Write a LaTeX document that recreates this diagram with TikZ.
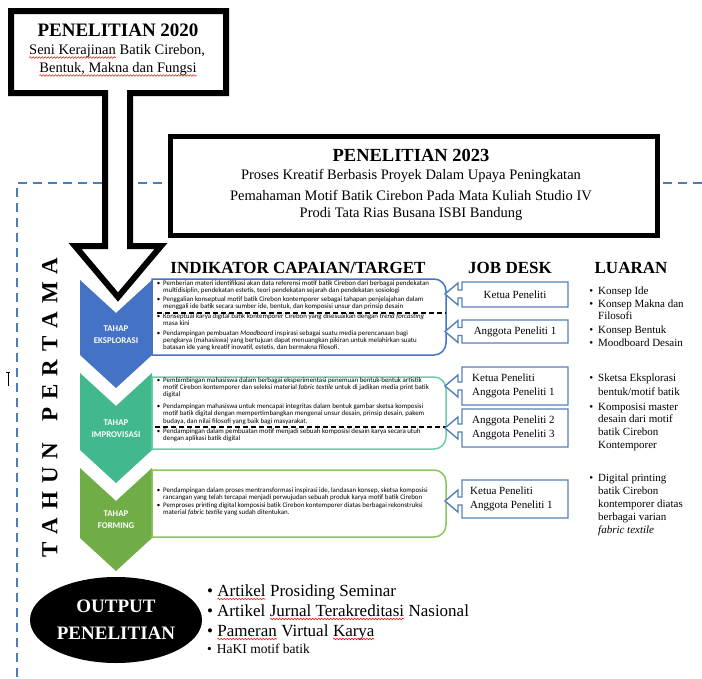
\documentclass[tikz,border=0pt]{standalone}
\usepackage{fontspec}
\setmainfont{Liberation Serif}
\newfontfamily\calib{Carlito}
\usetikzlibrary{shapes.geometric,decorations.pathmorphing}
\definecolor{cblue}{HTML}{4472C4}
\definecolor{cteal}{HTML}{41B98D}
\definecolor{cgreen}{HTML}{70AD47}
\definecolor{tealbox}{HTML}{6CCDA6}
\definecolor{greenbox}{HTML}{8CC65A}
\definecolor{jdcol}{HTML}{5581B8}
\definecolor{framecol}{HTML}{4A7EBB}
\newcommand\redwave[1]{\begin{tikzpicture}[baseline=0pt,x=1pt,y=1pt]%
  \node[inner sep=0pt,outer sep=0pt,anchor=base west,rotate=0] (rw) at (0,0) {#1};%
  \draw[red,line width=0.5pt,decorate,decoration={snake,amplitude=0.8pt,segment length=3pt}]
    ([yshift=-3pt]rw.base west) -- ([yshift=-3pt]rw.base east);%
  \end{tikzpicture}}
\newcommand\bul{\llap{\textbullet\hspace{5pt}}}
\newcommand\ibul{\llap{\textbullet\hspace{3pt}}}
\newcommand\tpk{\kern7.9pt}
\newcommand\jdshape[3]{%
  \draw[jdbox] (568,#1) -- (462,#1) -- (462,#3-4) -- (458,#3-4) -- (458,#3-11) -- (445,#3)
    -- (458,#3+11) -- (458,#3+4) -- (462,#3+4) -- (462,#2) -- (568,#2) -- cycle;}
\newcommand\stagebox[3]{%
  \draw[#3, line width=1.5pt] (152,#1) -- (300,#1) [rounded corners=12pt] -- (446,#1) -- (446,#2)
    -- (300,#2) [sharp corners] -- (152,#2) -- cycle;}
\tikzset{
  chevtext/.style={text=white, inner sep=0, align=center, font=\calib\bfseries\fontsize{8.8}{12.5}\selectfont},
  ind/.style={anchor=base west, inner sep=0, align=left, font=\calib\fontsize{6.9}{6.8}\selectfont},
  head/.style={inner sep=0, font=\bfseries\fontsize{17}{20}\selectfont},
  jdtext/.style={inner sep=0, align=left, font=\fontsize{11}{14}\selectfont},
  lu/.style={anchor=base west, inner sep=0, align=left, font=\fontsize{11}{13}\selectfont},
  outb/.style={anchor=base west, inner sep=0, font=\fontsize{17}{20}\selectfont},
  jdbox/.style={draw=jdcol, line width=1.4pt, fill=white},
  sepline/.style={black, line width=1.2pt, dash pattern=on 5pt off 3pt},
  frameline/.style={framecol, line width=2pt, dash pattern=on 9pt off 6pt},
  titlebf/.style={inner sep=0, font=\bfseries\fontsize{19}{22}\selectfont},
  sub/.style={inner sep=0, font=\fontsize{14.5}{17}\selectfont},
}
\begin{document}
\begin{tikzpicture}[x=1pt,y=-1pt]
\useasboundingbox (0,0) rectangle (702,678);
\fill[white] (0,0) rectangle (702,678);

% dashed frame
\draw[frameline] (702,183) -- (17,183) -- (17,678);
% cursor mark
\draw[line width=0.8pt] (6,372) -- (10,372) (8,372) -- (8,386);

% 2023 box
\node[draw, line width=5pt, fill=white, minimum width=487pt, minimum height=99pt, inner sep=0, anchor=north west] (box23) at (167.5,133.5) {};
\node[inner sep=0, font=\bfseries\fontsize{18.5}{21}\selectfont] (t23) at (411,155) {PENELITIAN 2023};
\node[sub] (t23a) at (411,176) {Proses Kreatif Berbasis Proyek Dalam Upaya Peningkatan};
\node[sub] (t23b) at (411,195.5) {Pemahaman Motif Batik Cirebon Pada Mata Kuliah Studio IV};
\node[sub] (t23c) at (411,214.5) {Prodi Tata Rias Busana ISBI Bandung};

% chevrons
\fill[cblue] (80,280) -- (116,313) -- (152,280) -- (152,355) -- (116,388) -- (80,355) -- cycle;
\fill[cteal] (80,373) -- (116,406) -- (152,373) -- (152,450) -- (116,483) -- (80,450) -- cycle;
\fill[cgreen] (80,468) -- (116,501) -- (152,468) -- (152,538) -- (116,571) -- (80,538) -- cycle;
\node[chevtext] (c1) at (116,334.5) {TAHAP\\EKSPLORASI};
\node[chevtext] (c2) at (116,428.5) {TAHAP\\IMPROVISASI};
\node[chevtext] (c3) at (116,519.5) {TAHAP\\FORMING};

% 2020 callout arrow
\draw[line width=6pt, fill=white, miter limit=10] (11,11) -- (226,11) -- (226,93) -- (130,93) -- (130,246)
  -- (161,246) -- (118,297) -- (75,246) -- (105,246) -- (105,93) -- (11,93) -- cycle;
\node[titlebf] (t20) at (118,30) {PENELITIAN 2020};
\node[sub] (t20a) at (117,51.5) {\redwave{Seni Kerajinan} Batik Cirebon,};
\node[sub] (t20b) at (118,69.5) {\redwave{Bentuk, Makna dan Fungsi}};

% vertical label
\node[rotate=90, inner sep=0, font=\bfseries\fontsize{23}{23}\selectfont] (tahun) at (50,407.5)
  {T\tpk A\tpk H\tpk U\tpk N\tpk\ \tpk P\tpk E\tpk R\tpk T\tpk A\tpk M\tpk A};

% headers
\node[head] (h1) at (298,268) {INDIKATOR CAPAIAN/TARGET};
\node[head] (h2) at (510,268) {JOB DESK};
\node[head] (h3) at (631,268) {LUARAN};

% stage boxes
\stagebox{279}{355}{cblue}
\stagebox{377}{449}{tealbox}
\stagebox{470}{537}{greenbox}
\draw[sepline] (157,313) -- (446,313);
\draw[sepline] (155,427) -- (446,427);

% indicator texts (anchor = baseline of the last line)
\node[ind] (s1a) at (163,292.3) {\ibul Pemberian materi identifikasi akan data referensi motif batik Cirebon dari berbagai pendekatan\\multidisiplin, pendekatan estetis, teori pendekatan sejarah dan pendekatan sosiologi};
\node[ind] (s1b) at (163,308.3) {\ibul Penggalian konseptual motif batik Cirebon kontemporer sebagai tahapan penjelajahan dalam\\menggali ide batik secara sumber ide, bentuk, dan komposisi unsur dan prinsip desain};
\node[ind] (s1c) at (163,325.3) {\ibul Konseptual karya digital batik kontemporer Cirebon yang disesuaikan dengan \textit{trend forcasting}\\masa kini};
\node[ind, font=\calib\fontsize{6.9}{7.3}\selectfont] (s1d) at (163,349.6) {\ibul Pendampingan pembuatan \textit{Moodboard} inspirasi sebagai suatu media perencanaan bagi\\pengkarya (mahasiswa) yang bertujuan dapat menuangkan pikiran untuk melahirkan suatu\\batasan ide yang kreatif inovatif, estetis, dan bermakna filosofi.};
\node[ind, font=\calib\fontsize{6.9}{7.2}\selectfont] (s2a) at (163,396.4) {\ibul Pembimbingan mahasiswa dalam berbagai eksperimentasi penemuan bentuk-bentuk artistik\\motif Cirebon kontemporer dan seleksi material \textit{fabric textile} untuk di jadikan media print batik\\digital};
\node[ind, font=\calib\fontsize{6.9}{7.5}\selectfont] (s2b) at (163,423) {\ibul Pendampingan mahasiswa untuk mencapai integritas dalam bentuk gambar sketsa komposisi\\motif batik digital dengan mempertimbangkan mengenai unsur desain, prinsip desain, pakem\\budaya, dan nilai filosofi yang baik bagi masyarakat.};
\node[ind, font=\calib\fontsize{6.9}{7.3}\selectfont] (s2c) at (163,440.5) {\ibul Pendampingan dalam pembuatan motif menjadi sebuah komposisi desain karya secara utuh\\dengan aplikasi batik digital};
\node[ind] (s3a) at (163,499.2) {\ibul Pendampingan dalam proses mentransformasi inspirasi ide, landasan konsep, sketsa komposisi\\rancangan yang telah tercapai menjadi perwujudan sebuah produk karya motif batik Cirebon};
\node[ind] (s3b) at (163,514.5) {\ibul Pemproses printing digital komposisi batik Cirebon kontemporer diatas berbagai rekonstruksi\\material \textit{fabric textile} yang sudah ditentukan.};

% job desk
\jdshape{282}{307}{294}
\jdshape{320}{343}{331.5}
\jdshape{367}{405}{386}
\jdshape{409}{447}{428}
\jdshape{480}{518}{501}
\node[jdtext] (j1) at (515,294.5) {Ketua Peneliti};
\node[jdtext] (j2) at (515,331.5) {Anggota Peneliti 1};
\node[jdtext, anchor=west] (j3) at (472,386) {Ketua Peneliti\\Anggota Peneliti 1};
\node[jdtext, anchor=west] (j4) at (472,428) {Anggota Peneliti 2\\Anggota Peneliti 3};
\node[jdtext, anchor=west] (j5) at (470,499) {Ketua Peneliti\\Anggota Peneliti 1};

% luaran (anchor = baseline of the last line)
\node[lu] (l1) at (598,294) {\bul Konsep Ide};
\node[lu, font=\fontsize{11}{12}\selectfont] (l2) at (598,319) {\bul Konsep Makna dan\\Filosofi};
\node[lu] (l3) at (598,333) {\bul Konsep Bentuk};
\node[lu] (l4) at (598,346) {\bul Moodboard Desain};
\node[lu, font=\fontsize{11}{14}\selectfont] (l5) at (598,395) {\bul Sketsa Eksplorasi\\bentuk/motif batik};
\node[lu, font=\fontsize{11}{12.7}\selectfont] (l6) at (598,448.1) {\bul Komposisi master\\desain dari motif\\batik Cirebon\\Kontemporer};
\node[lu, font=\fontsize{11}{13.2}\selectfont] (l7) at (598,533.8) {\bul Digital printing\\batik Cirebon\\kontemporer diatas\\berbagai varian\\\textit{fabric textile}};

% output
\node[ellipse, fill=black, minimum width=172pt, minimum height=86pt, inner sep=0, text=white, align=center,
  font=\bfseries\fontsize{19}{27}\selectfont] (out) at (116,620) {OUTPUT\\PENELITIAN};
\node[outb] (o1) at (207,596) {\textbullet\hspace{4pt}\redwave{Artikel} Prosiding Seminar};
\node[outb] (o2) at (207,616) {\textbullet\hspace{4pt}Artikel \redwave{Jurnal Terakreditasi} Nasional};
\node[outb] (o3) at (207,636) {\textbullet\hspace{4pt}\redwave{Pameran} Virtual \redwave{Karya}};
\node[outb, font=\fontsize{13.5}{16}\selectfont] (o4) at (207,653) {\textbullet\hspace{5pt}HaKI motif batik};
\end{tikzpicture}
\end{document}
